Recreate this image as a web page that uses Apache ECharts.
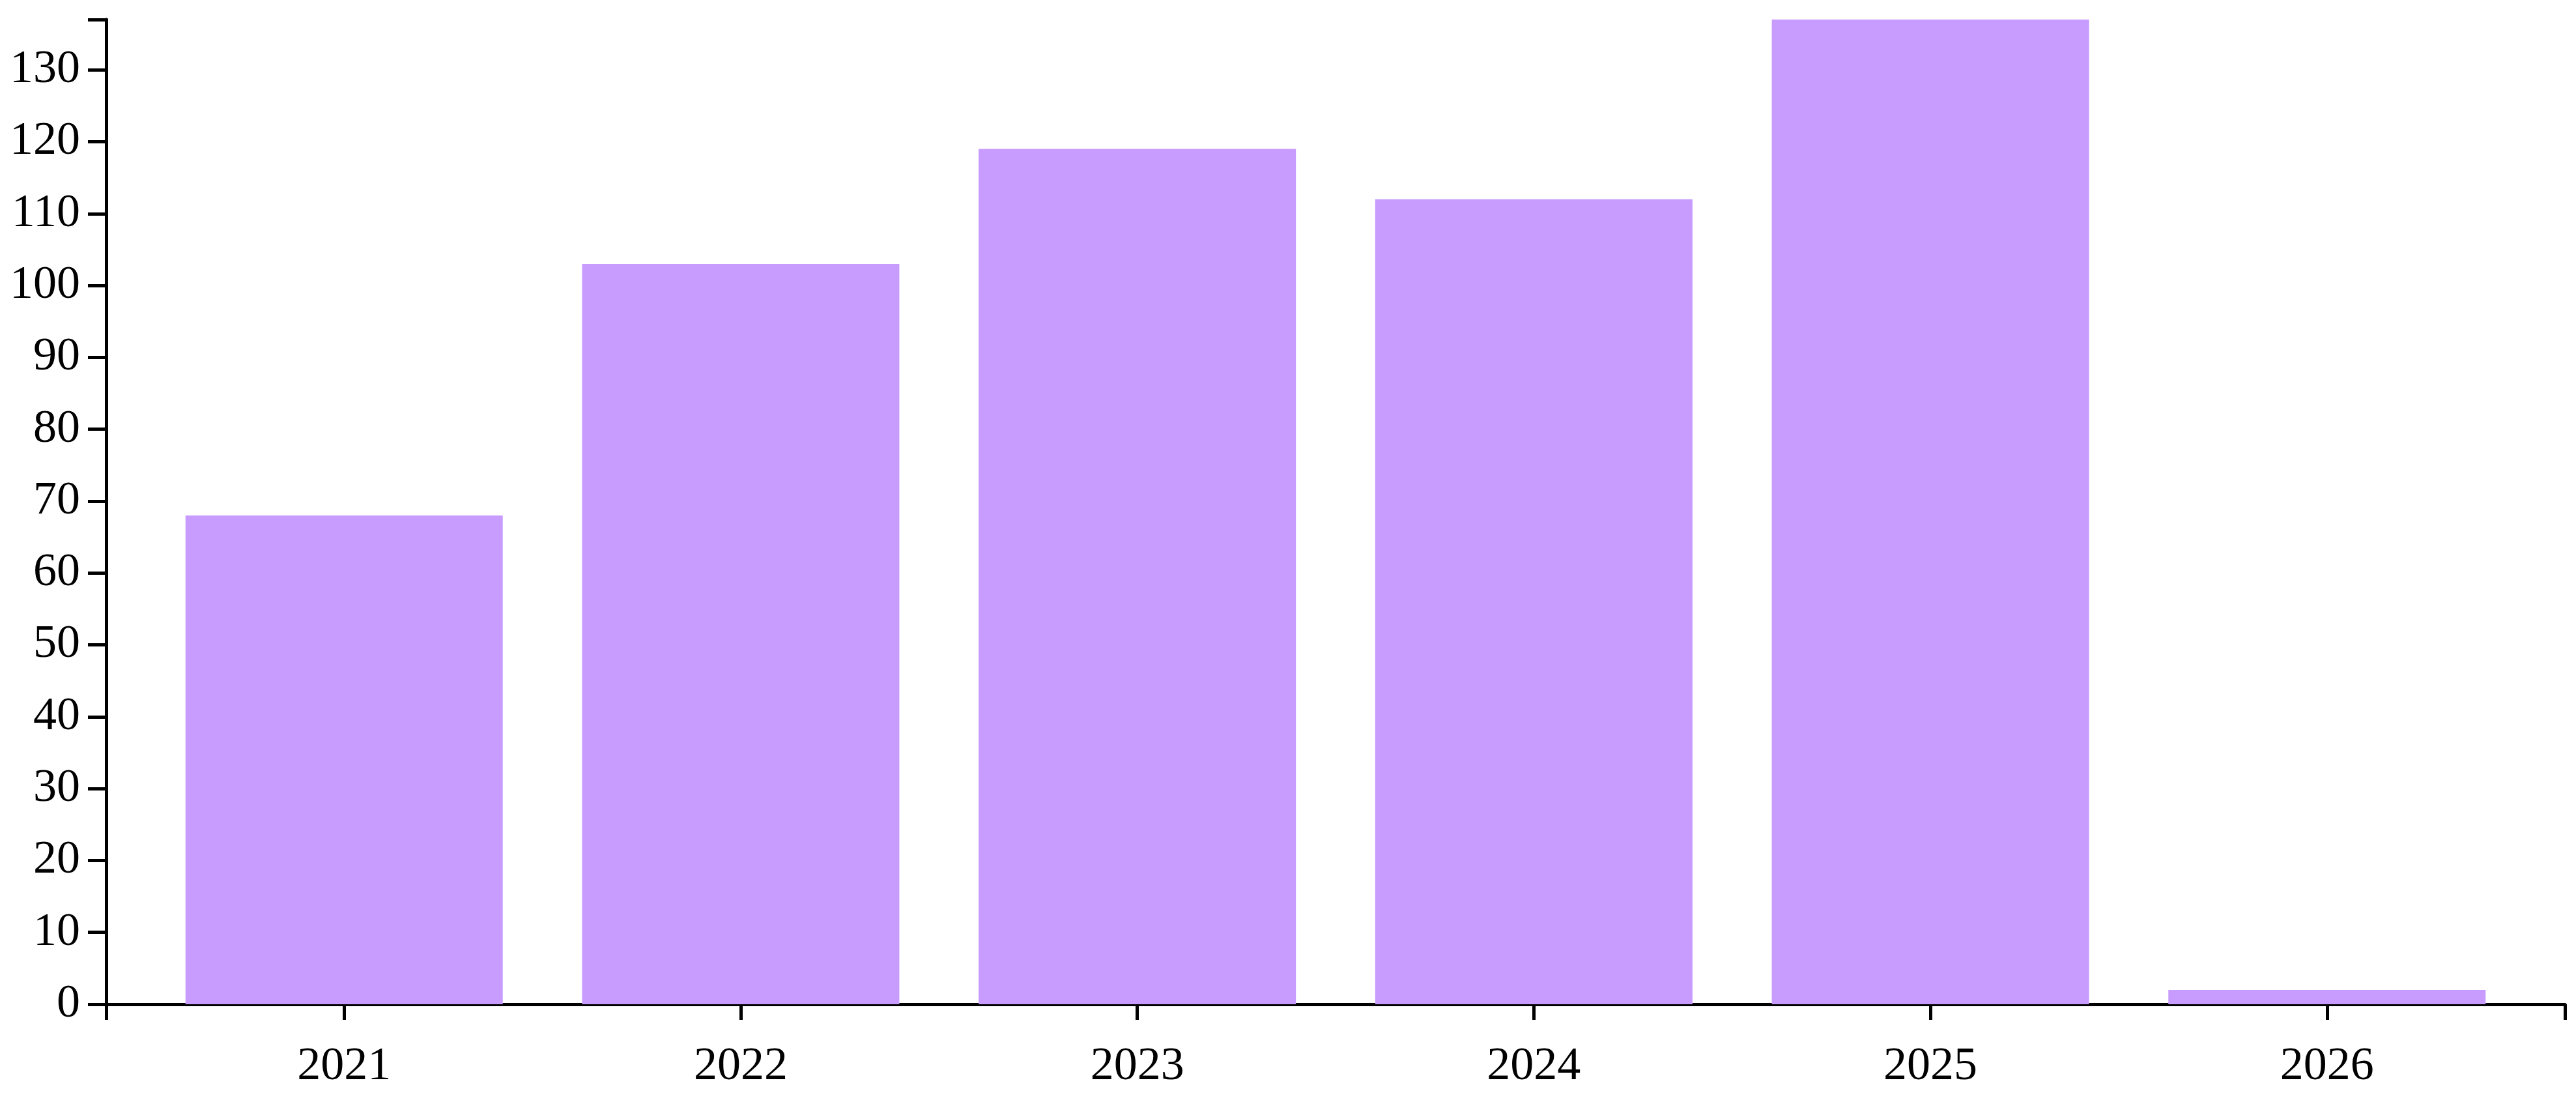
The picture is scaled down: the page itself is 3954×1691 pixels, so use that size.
<!DOCTYPE html>
<html>
<head>
<meta charset="utf-8">
<script src="https://cdn.jsdelivr.net/npm/echarts@6/dist/echarts.min.js"></script>
<style>
  html, body { margin: 0; padding: 0; background: #fff; }
  #chart { width: 3954px; height: 1691px; }
</style>
</head>
<body>
<div id="chart"></div>
<script>
  var years = ['2021', '2022', '2023', '2024', '2025', '2026']
  var counts = [68, 103, 119, 112, 137, 2]
  var yTicks = [0, 10, 20, 30, 40, 50, 60, 70, 80, 90, 100, 110, 120, 130]
  var yMax = 137

  // bars sit on a value axis so the band padding at both ends matches the original
  var xPos = years.map(function (y, i) { return i })
  var barData = counts.map(function (v, i) { return [xPos[i], v] })

  var font = 'Liberation Serif, Times New Roman, serif'
  var axisColor = '#000'

  var chart = echarts.init(document.getElementById('chart'))
  chart.setOption({
    animation: false,
    backgroundColor: '#fff',
    grid: {
      left: 163,
      right: 17,
      top: 30,
      bottom: 150
    },
    xAxis: {
      type: 'value',
      min: -0.6,
      max: xPos.length - 0.4,
      splitLine: { show: false },
      axisLine: {
        show: true,
        onZero: false,
        lineStyle: { color: axisColor, width: 5 }
      },
      axisTick: {
        show: true,
        length: 24,
        customValues: [-0.6].concat(xPos, [xPos.length - 0.4]),
        lineStyle: { color: axisColor, width: 5 }
      },
      axisLabel: {
        customValues: xPos,
        formatter: function (v) { return years[Math.round(v)] },
        color: '#000',
        fontFamily: font,
        fontSize: 72,
        margin: 60
      }
    },
    yAxis: {
      type: 'value',
      min: 0,
      max: yMax,
      splitLine: { show: false },
      axisLine: {
        show: true,
        onZero: false,
        lineStyle: { color: axisColor, width: 5 }
      },
      axisTick: {
        show: true,
        length: 28,
        customValues: yTicks.concat([yMax]),
        lineStyle: { color: axisColor, width: 5 }
      },
      axisLabel: {
        customValues: yTicks,
        color: '#000',
        fontFamily: font,
        fontSize: 72,
        margin: 40
      }
    },
    series: [{
      type: 'bar',
      data: barData,
      barWidth: 487,
      itemStyle: { color: '#c89bff' }
    }]
  })
</script>
</body>
</html>
